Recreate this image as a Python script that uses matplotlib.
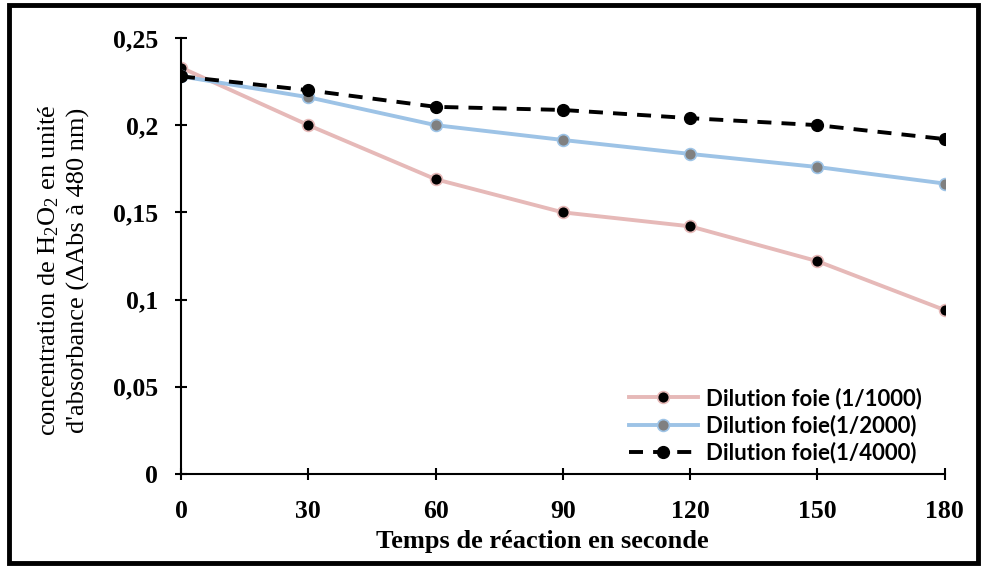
import matplotlib.pyplot as plt
from matplotlib.patches import Rectangle

plt.rcParams['mathtext.fontset'] = 'custom'
plt.rcParams['mathtext.rm'] = 'Liberation Serif'
plt.rcParams['mathtext.it'] = 'Liberation Serif:italic'

# données
temps = [0, 30, 60, 90, 120, 150, 180]
dil_1000 = [0.233, 0.200, 0.169, 0.150, 0.142, 0.122, 0.094]
dil_2000 = [0.228, 0.216, 0.200, 0.1915, 0.1835, 0.176, 0.1665]
dil_4000 = [0.228, 0.220, 0.2105, 0.2087, 0.204, 0.200, 0.192]
yticks = [0, 0.05, 0.1, 0.15, 0.2, 0.25]
ytick_labels = ['0', '0,05', '0,1', '0,15', '0,2', '0,25']

fig = plt.figure(figsize=(9.81, 5.66), dpi=100)
ax = fig.add_axes([0.1845, 0.1625, 0.7785, 0.7705])

ax.plot(temps, dil_1000, color='#E6B9B8', lw=2.8, marker='o', ms=8.5,
        mfc='black', mec='#E6B9B8', mew=1.2, label='Dilution foie (1/1000)')
ax.plot(temps, dil_2000, color='#9DC3E6', lw=2.8, marker='o', ms=8.5,
        mfc='#808080', mec='#9DC3E6', mew=1.2, label='Dilution foie(1/2000)')
ax.plot(temps, dil_4000, color='black', lw=2.8, ls=(0, (3.6, 2.6)), marker='o', ms=8.5,
        mfc='black', mec='black', label='Dilution foie(1/4000)')

ax.set_xlim(0, 180)
ax.set_ylim(0, 0.25)
ax.set_xticks(temps)
ax.set_yticks(yticks)
ax.set_yticklabels(ytick_labels)
for s in ['top', 'right']:
    ax.spines[s].set_visible(False)
for s in ['left', 'bottom']:
    ax.spines[s].set_linewidth(1.5)
    ax.spines[s].set_clip_on(False)
ax.tick_params(direction='inout', length=9, width=1.5)
ax.tick_params(axis='y', pad=12)
ax.tick_params(axis='x', pad=14)
for lab in ax.get_xticklabels() + ax.get_yticklabels():
    lab.set_fontfamily('Liberation Serif')
    lab.set_fontweight('bold')
    lab.set_fontsize(18.5)

ax.set_xlabel('Temps de réaction en seconde', fontfamily='Liberation Serif',
              fontweight='bold', fontsize=19)
ax.xaxis.set_label_coords(0.4725, -0.155)
ax.set_ylabel("concentration de H$_2$O$_2$ en unité\nd'absorbance (ΔAbs à 480 nm)",
              fontfamily='Liberation Serif', fontsize=19, linespacing=1.3)
ax.yaxis.set_label_coords(-0.154, 0.468)
ax.yaxis.label.set_va('center')
ax.xaxis.label.set_va('center')

leg = ax.legend(loc='lower right', frameon=False, handlelength=3.1,
                prop={'family': 'Lato', 'weight': 'bold', 'size': 16},
                borderaxespad=0.3, labelspacing=0.25, handletextpad=0.35,
                bbox_to_anchor=(0.99, -0.012))

fig.patches.append(Rectangle((0.0095, 0.006), 0.987, 0.985, transform=fig.transFigure,
                             fill=False, ec='black', lw=3.5))

fig.savefig('out.png', dpi=100)
